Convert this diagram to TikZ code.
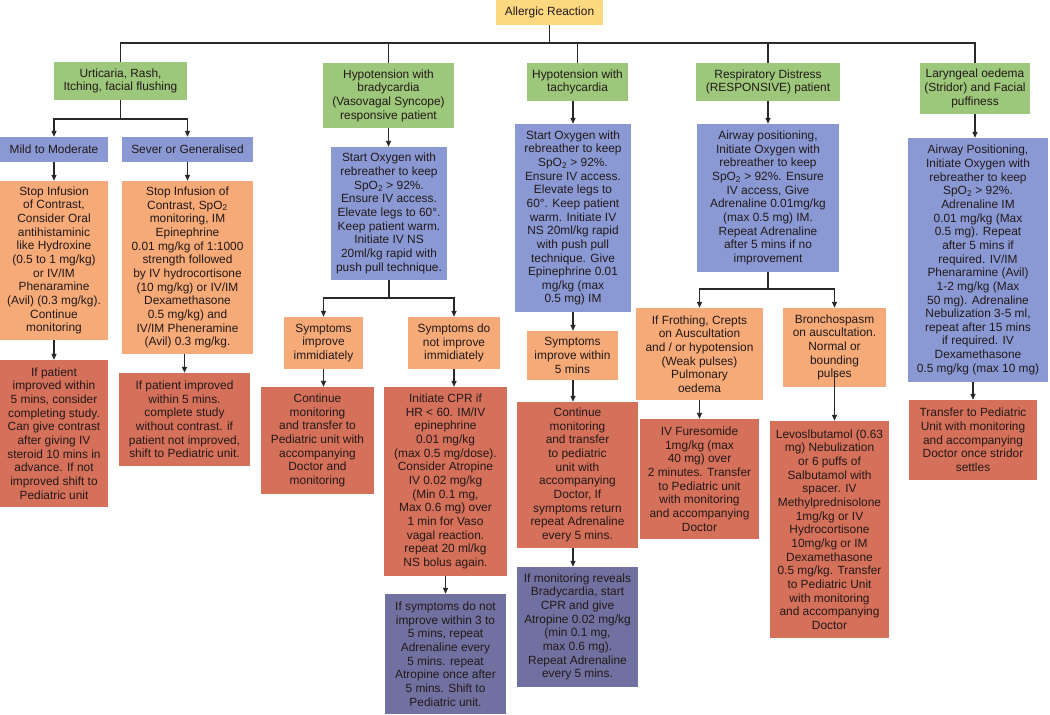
\documentclass[tikz,border=0pt]{standalone}
\usepackage{fontspec}
\setmainfont{Liberation Sans}
\usetikzlibrary{arrows.meta}
\definecolor{cyellow}{RGB}{252,216,128}
\definecolor{cgreen}{RGB}{157,199,122}
\definecolor{cblue}{RGB}{138,153,212}
\definecolor{corange}{RGB}{245,170,120}
\definecolor{cred}{RGB}{213,112,90}
\definecolor{cdpurple}{RGB}{112,113,160}
\definecolor{ctext}{RGB}{35,25,25}
\definecolor{cline}{RGB}{40,40,40}
\begin{document}
\begin{tikzpicture}[x=1pt,y=-1pt,
  bx/.style={inner sep=0pt, align=center, text=ctext,
    font=\fontsize{11.9}{13.65}\selectfont},
  ln/.style={draw=cline, line width=1.3pt},
  arr/.style={ln, -{Triangle[length=6pt,width=5pt]}}]
\useasboundingbox (0,0) rectangle (1050,715);
\fill[white] (0,0) rectangle (1050,715);

% top
\node[bx, fill=cyellow, minimum width=107pt, minimum height=25pt] (title) at (549.5,12.5) {Allergic Reaction};

% green row
\node[bx, fill=cgreen, minimum width=133pt, minimum height=38pt] (urt) at (120.5,81) {Urticaria, Rash,\\Itching, facial flushing};
\node[bx, fill=cgreen, minimum width=131pt, minimum height=65pt] (brady) at (388.5,95.5) {Hypotension with\\bradycardia\\(Vasovagal Syncope)\\responsive patient};
\node[bx, fill=cgreen, minimum width=101pt, minimum height=38pt] (tachy) at (577.5,82) {Hypotension with\\tachycardia};
\node[bx, fill=cgreen, minimum width=144pt, minimum height=38pt] (resp) at (768,82) {Respiratory Distress\\(RESPONSIVE) patient};
\node[bx, fill=cgreen, minimum width=110pt, minimum height=51pt] (lary) at (975,88.5) {Laryngeal oedema\\(Stridor) and Facial\\puffiness};

% column 1
\node[bx, fill=cblue, minimum width=108pt, minimum height=25pt] (mild) at (54,149.5) {Mild to Moderate};
\node[bx, fill=cblue, minimum width=131pt, minimum height=25pt] (sever) at (187.5,149.5) {Sever or Generalised};
\node[bx, fill=corange, minimum width=108pt, minimum height=159pt] (stopa) at (54,260.5) {Stop Infusion\\of Contrast,\\Consider Oral\\antihistaminic\\like Hydroxine\\(0.5 to 1 mg/kg)\\or IV/IM\\Phenaramine\\(Avil) (0.3 mg/kg).\\Continue\\monitoring};
\node[bx, fill=corange, minimum width=131pt, minimum height=173pt] (stopb) at (187.5,267.5) {Stop Infusion of\\Contrast, SpO\textsubscript{2}\\monitoring, IM\\Epinephrine\\0.01 mg/kg of 1:1000\\strength followed\\by IV hydrocortisone\\(10 mg/kg) or IV/IM\\Dexamethasone\\0.5 mg/kg) and\\IV/IM Pheneramine\\(Avil) 0.3 mg/kg.};
\node[bx, fill=cred, minimum width=108pt, minimum height=147pt] (reda) at (54,433.5) {If patient\\improved within\\5 mins, consider\\completing study.\\Can give contrast\\after giving IV\\steroid 10 mins in\\advance. If not\\improved shift to\\Pediatric unit};
\node[bx, fill=cred, minimum width=131pt, minimum height=93pt] (redb) at (184.5,419.5) {If patient improved\\within 5 mins.\\complete study\\without contrast. if\\patient not improved,\\shift to Pediatric unit.};

% column 2
\node[bx, fill=cblue, minimum width=116pt, minimum height=133pt] (bpurp) at (389,213.5) {Start Oxygen with\\rebreather to keep\\SpO\textsubscript{2} > 92\%.\\Ensure IV access.\\Elevate legs to 60°.\\Keep patient warm.\\Initiate IV NS\\20ml/kg rapid with\\push pull technique.};
\node[bx, fill=corange, minimum width=79pt, minimum height=52pt] (simp) at (323.5,343) {Symptoms\\improve\\immidiately};
\node[bx, fill=corange, minimum width=92pt, minimum height=52pt] (snot) at (454,343) {Symptoms do\\not improve\\immidiately};
\node[bx, fill=cred, minimum width=113pt, minimum height=107pt] (conta) at (317.5,440.5) {Continue\\monitoring\\and transfer to\\Pediatric unit with\\accompanying\\Doctor and\\monitoring};
\node[bx, fill=cred, minimum width=123pt, minimum height=189pt] (cpr) at (445.5,481.5) {Initiate CPR if\\HR < 60. IM/IV\\epinephrine\\0.01 mg/kg\\(max 0.5 mg/dose).\\Consider Atropine\\IV 0.02 mg/kg\\(Min 0.1 mg,\\Max 0.6 mg) over\\1 min for Vaso\\vagal reaction.\\repeat 20 ml/kg\\NS bolus again.};
\node[bx, fill=cdpurple, minimum width=121pt, minimum height=120pt] (dpa) at (445.5,654) {If symptoms do not\\improve within 3 to\\5 mins, repeat\\Adrenaline every\\5 mins. repeat\\Atropine once after\\5 mins. Shift to\\Pediatric unit.};

% column 3
\node[bx, fill=cblue, minimum width=116pt, minimum height=188pt] (tpurp) at (573,218) {Start Oxygen with\\rebreather to keep\\SpO\textsubscript{2} > 92\%.\\Ensure IV access.\\Elevate legs to\\60°. Keep patient\\warm. Initiate IV\\NS 20ml/kg rapid\\with push pull\\technique. Give\\Epinephrine 0.01\\mg/kg (max\\0.5 mg) IM};
\node[bx, fill=corange, minimum width=91pt, minimum height=49pt] (tfive) at (572.5,355.5) {Symptoms\\improve within\\5 mins};
\node[bx, fill=cred, minimum width=121pt, minimum height=146pt] (contb) at (577.5,475) {Continue\\monitoring\\and transfer\\to pediatric\\unit with\\accompanying\\Doctor, If\\symptoms return\\repeat Adrenaline\\every 5 mins.};
\node[bx, fill=cdpurple, minimum width=121pt, minimum height=120pt] (dpb) at (577.5,627) {If monitoring reveals\\Bradycardia, start\\CPR and give\\Atropine 0.02 mg/kg\\(min 0.1 mg,\\max 0.6 mg).\\Repeat Adrenaline\\every 5 mins.};

% column 4
\node[bx, fill=cblue, minimum width=142pt, minimum height=148pt] (rpurp) at (768,198) {Airway positioning,\\Initiate Oxygen with\\rebreather to keep\\SpO\textsubscript{2} > 92\%. Ensure\\IV access, Give\\Adrenaline 0.01mg/kg\\(max 0.5 mg) IM.\\Repeat Adrenaline\\after 5 mins if no\\improvement};
\node[bx, fill=corange, minimum width=127pt, minimum height=92pt] (froth) at (699.5,354) {If Frothing, Crepts\\on Auscultation\\and / or hypotension\\(Weak pulses)\\Pulmonary\\oedema};
\node[bx, fill=corange, minimum width=103pt, minimum height=79pt] (bron) at (834.5,347.5) {Bronchospasm\\on auscultation.\\Normal or\\bounding\\pulses};
\node[bx, fill=cred, minimum width=119pt, minimum height=120pt] (furo) at (699.5,479) {IV Furesomide\\1mg/kg (max\\40 mg) over\\2 minutes. Transfer\\to Pediatric unit\\with monitoring\\and accompanying\\Doctor};
\node[bx, fill=cred, minimum width=119pt, minimum height=217pt] (levo) at (829.5,529.5) {Levoslbutamol (0.63\\mg) Nebulization\\or 6 puffs of\\Salbutamol with\\spacer. IV\\Methylprednisolone\\1mg/kg or IV\\Hydrocortisone\\10mg/kg or IM\\Dexamethasone\\0.5 mg/kg. Transfer\\to Pediatric Unit\\with monitoring\\and accompanying\\Doctor};

% column 5
\node[bx, fill=cblue, minimum width=140pt, minimum height=244pt] (lpurp) at (978,260) {Airway Positioning,\\Initiate Oxygen with\\rebreather to keep\\SpO\textsubscript{2} > 92\%.\\Adrenaline IM\\0.01 mg/kg (Max\\0.5 mg). Repeat\\after 5 mins if\\required. IV/IM\\Phenaramine (Avil)\\1-2 mg/kg (Max\\50 mg). Adrenaline\\Nebulization 3-5 ml,\\repeat after 15 mins\\if required. IV\\Dexamethasone\\0.5 mg/kg (max 10 mg)};
\node[bx, fill=cred, minimum width=128pt, minimum height=80pt] (lred) at (973,440) {Transfer to Pediatric\\Unit with monitoring\\and accompanying\\Doctor once stridor\\settles};

% top bus
\coordinate (bus) at (550,43);
\draw[ln] (title.south) -- (title.south |- bus);
\draw[ln] (urt.north) -- (urt.north |- bus) -- (lary.north |- bus) -- (lary.north);
\draw[ln] (brady.north |- bus) -- (brady.north);
\draw[ln] (tachy.north |- bus) -- (tachy.north);
\draw[ln] (resp.north |- bus) -- (resp.north);

% column 1 connectors
\coordinate (ba) at (120.5,119);
\draw[ln] (urt.south) -- (ba);
\draw[arr] (ba) -| (mild.north);
\draw[arr] (ba) -| (sever.north);
\draw[arr] (mild.south) -- (stopa.north);
\draw[arr] (sever.south) -- (stopb.north);
\draw[arr] (stopa.south) -- (reda.north);
\draw[arr] (redb.north |- stopb.south) -- (redb.north);

% column 2 connectors
\draw[arr] (brady.south) -- (brady.south |- bpurp.north);
\coordinate (bb) at (389,298);
\draw[ln] (bpurp.south) -- (bb);
\draw[arr] (bb) -| (simp.north);
\draw[arr] (bb) -| (snot.north);
\draw[arr] (simp.south) -- (simp.south |- conta.north);
\draw[arr] (snot.south |- cpr.north) ++(0,-18) -- (snot.south |- cpr.north);
\draw[arr] (cpr.south) -- (dpa.north);

% column 3 connectors
\draw[arr] (tpurp.north |- tachy.south) -- (tpurp.north);
\draw[arr] (tpurp.south) -- (tpurp.south |- tfive.north);
\draw[arr] (tpurp.south |- tfive.south) -- (tpurp.south |- contb.north);
\draw[arr] (tpurp.south |- contb.south) -- (tpurp.south |- dpb.north);

% column 4 connectors
\draw[arr] (resp.south) -- (rpurp.north);
\coordinate (bc) at (768,289);
\draw[ln] (rpurp.south) -- (bc);
\draw[arr] (bc) -| (froth.north);
\draw[arr] (bc) -| (bron.north);
\draw[arr] (froth.south) -- (froth.south |- furo.north);
\coordinate (bronin) at ([yshift=15pt]bron.south);
\draw[arr] (bronin) -- (bronin |- levo.north);

% column 5 connectors
\draw[arr] (lary.south) -- (lary.south |- lpurp.north);
\draw[arr] (lred.north |- lpurp.south) -- (lred.north);
\end{tikzpicture}
\end{document}
